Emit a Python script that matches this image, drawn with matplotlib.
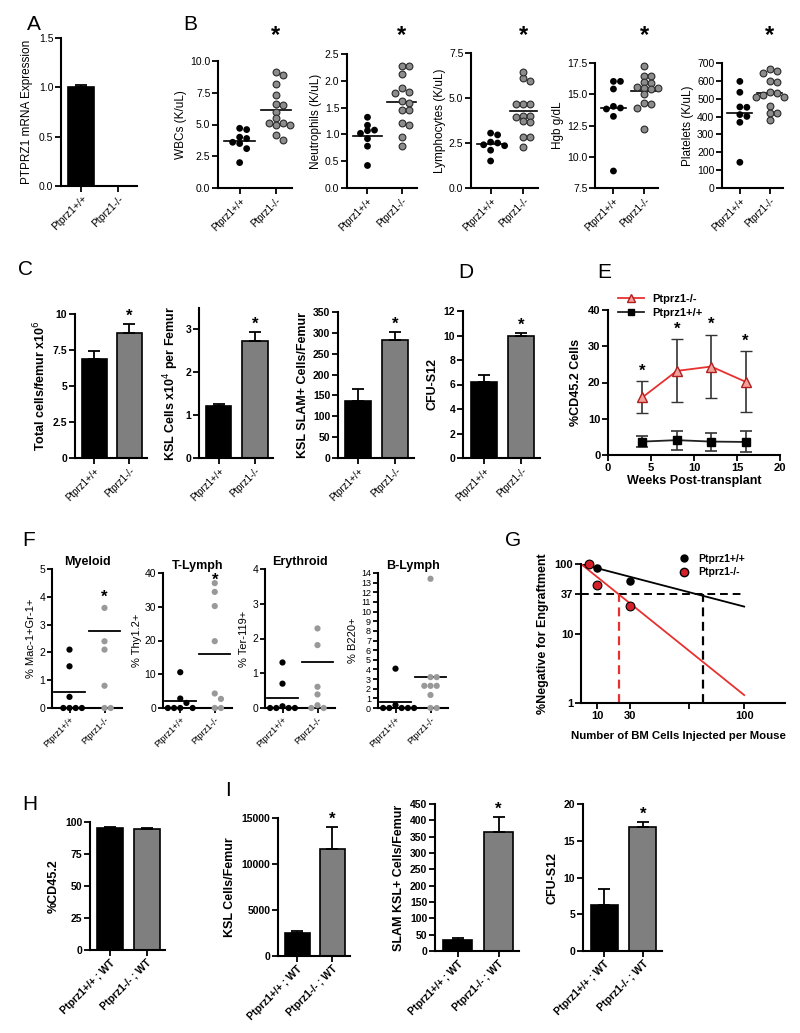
import numpy as np
import matplotlib
matplotlib.use("Agg")
import matplotlib.pyplot as plt
from matplotlib import transforms
from matplotlib.lines import Line2D

plt.rcParams['font.family'] = ['Liberation Sans', 'DejaVu Sans']

W, H = 800, 1033
GROUPS = ["Ptprz1+/+", "Ptprz1-/-"]
GROUPS_WT = ["Ptprz1+/+ ; WT", "Ptprz1-/- ; WT"]

# ---- A: PTPRZ1 mRNA
a_mean = [1.0, 0.0]
a_err = [0.02, 0.0]

# ---- B: blood counts (WT, KO)
wbc_wt = [4.7, 4.6, 3.6, 3.5, 3.9, 4.0, 3.1, 2.0]
wbc_ko = [9.1, 8.9, 8.2, 7.3, 6.6, 6.5, 6.0, 5.5, 5.1, 5.0, 5.1, 5.0, 4.2, 3.8]
neu_wt = [1.32, 1.17, 1.07, 1.08, 1.02, 0.92, 0.78, 0.42]
neu_ko = [2.28, 2.13, 2.27, 1.86, 1.80, 1.77, 1.62, 1.58, 1.46, 1.45, 1.21, 1.18, 0.96, 0.78]
lym_wt = [2.95, 3.05, 2.55, 2.40, 2.50, 2.35, 2.10, 1.50]
lym_ko = [6.10, 6.44, 5.96, 4.69, 4.67, 4.69, 4.00, 3.97, 4.02, 3.69, 3.72, 2.81, 2.81, 2.29]
hgb_wt = [16.03, 16.03, 15.42, 13.82, 13.90, 14.03, 13.23, 8.86]
hgb_ko = [17.3, 16.5, 16.5, 15.9, 15.95, 15.5, 15.5, 15.0, 14.3, 14.2, 13.9, 12.2, 15.4, 15.6]
plt_wt = [597, 536, 454, 452, 411, 401, 368, 144]
plt_ko = [668, 644, 653, 597, 592, 530, 538, 523, 510, 512, 461, 420, 420, 383]

# ---- C / D: femur counts (mean, sem)
tot_mean, tot_err = [6.9, 8.7], [0.5, 0.6]
ksl_mean, ksl_err = [1.22, 2.72], [0.05, 0.22]
slam_mean, slam_err = [137, 283], [28, 20]
cfu_mean, cfu_err = [6.2, 10.0], [0.6, 0.2]

# ---- E: chimerism over time
e_weeks = [4, 8, 12, 16]
e_ko = [15.9, 23.2, 24.4, 20.2]
e_ko_err = [4.4, 8.7, 8.7, 8.4]
e_wt = [3.7, 4.1, 3.7, 3.6]
e_wt_err = [1.6, 2.6, 2.5, 2.9]

# ---- F: lineage (points + line value)
mye_wt = [2.1, 1.5, 0.4, 0, 0, 0, 0]
mye_ko = [3.6, 2.4, 2.1, 0.8, 0, 0]
mye_line = [0.59, 2.78]
tly_wt = [10.6, 2.8, 1.5, 0, 0, 0, 0]
tly_ko = [37.0, 34.4, 30.2, 19.8, 4.3, 2.7, 0, 0]
tly_line = [2.2, 16.1]
ery_wt = [1.31, 0.70, 0.05, 0, 0, 0, 0]
ery_ko = [2.29, 1.81, 0.61, 0.39, 0.08, 0, 0]
ery_line = [0.30, 1.32]
bly_wt = [4.08, 0.3, 0, 0, 0, 0, 0]
bly_ko = [13.4, 3.2, 3.2, 2.3, 2.3, 2.3, 1.35, 0, 0]
bly_line = [0.62, 3.25]

# ---- G: limiting dilution
g_wt_x = [10, 30]
g_wt_y = [88, 57]
g_ko_x = [5, 10, 30]
g_ko_y = [100, 50, 25]
g_fit_x = [0, 100]
g_wt_fit = [100, 24.4]
g_ko_fit = [100, 1.3]
g_wt_x37 = 74.5
g_ko_x37 = 23

# ---- H / I: secondary transplant
cd45_mean, cd45_err = [95.5, 94.5], [0.5, 0.8]
i_ksl_mean, i_ksl_err = [2550, 11600], [200, 2400]
i_slam_mean, i_slam_err = [35, 365], [5, 45]
i_cfu_mean, i_cfu_err = [6.2, 16.9], [2.2, 0.7]

fig = plt.figure(figsize=(W / 100, H / 100), dpi=100)


def add_ax(l, t, r, b):
    ax = fig.add_axes([l / W, 1 - b / H, (r - l) / W, (b - t) / H])
    ax.spines[['top', 'right']].set_visible(False)
    for s in ('left', 'bottom'):
        ax.spines[s].set_linewidth(1.5)
    ax.tick_params(width=1.3, length=4, labelsize=7.5, pad=1.5)
    return ax


def letter(x, y, s):
    fig.text(x / W, 1 - y / H, s, fontsize=15, ha='left', va='center')


def xlabels(ax, labels, size=7.5, bold=False):
    ax.set_xticks(range(len(labels)))
    ax.set_xticklabels(labels, rotation=45, ha='right', rotation_mode='anchor',
                       fontsize=size, fontweight='bold' if bold else 'normal')


def bars(ax, means, errs, star=None, width=0.7):
    x = np.arange(2)
    ax.bar(x, means, width, color=['black', '#7f7f7f'], edgecolor='black', linewidth=1.2)
    ax.errorbar(x, means, yerr=[np.zeros(2), errs], fmt='none', ecolor='black',
                elinewidth=1.3, capsize=4, capthick=1.3)
    ax.set_xlim(-0.55, 1.5)
    if star:
        ax.text(1, means[1] + errs[1], '*', ha='center', va='bottom', fontsize=star,
                fontweight='bold')


def swarm(values, px_per_y, px_per_x, diam, tol=0.7):
    # simple column packing: a point moves sideways only when it would hide another
    ys = np.asarray(values, float) * px_per_y
    placed, offs = [], np.zeros(len(ys))
    for i in np.argsort(-ys):
        k = 0
        while True:
            step = (k + 1) // 2 * (1 if k % 2 else -1)
            cand = step * diam * 1.0
            if all((cand - px) ** 2 + (ys[i] - py) ** 2 >= (diam * tol) ** 2 for px, py in placed):
                break
            k += 1
        placed.append((cand, ys[i]))
        offs[i] = cand
    return offs / px_per_x


def dots(ax, box, ylim, xlim, groups, styles, diam, line=None, lw=1.2, half=0.4, tol=0.7):
    l, t, r, b = box
    px_y = (b - t) / (ylim[1] - ylim[0])
    px_x = (r - l) / (xlim[1] - xlim[0])
    for gi, (vals, st) in enumerate(zip(groups, styles)):
        off = swarm(np.asarray(vals) - ylim[0], px_y, px_x, diam, tol)
        ax.scatter(gi + off, vals, clip_on=False, zorder=3, **st)
        val = np.mean(vals) if line is None else line[gi]
        ax.plot([gi - half, gi + half], [val, val], color='black', lw=lw, zorder=2)
    ax.set_xlim(*xlim)
    ax.set_ylim(*ylim)


# ================= A
ax = add_ax(61, 38, 137, 186)
letter(27, 24, 'A')
bars(ax, a_mean, a_err)
ax.set_ylim(0, 1.5)
ax.set_yticks([0, 0.5, 1.0, 1.5])
ax.set_yticklabels(['0.0', '0.5', '1.0', '1.5'])
ax.set_ylabel('PTPRZ1 mRNA Expression', fontsize=8.5)
xlabels(ax, GROUPS)

# ================= B
letter(183, 24, 'B')
wt_st = dict(s=24, color='black', edgecolor='none')
ko_st = dict(s=24, color='#8c8c8c', edgecolor='#2a2a2a', linewidth=0.8)
b_panels = [
    ((218, 61, 292, 188), (0, 10), [0, 2.5, 5, 7.5, 10], '{:.1f}', 'WBCs (K/uL)', wbc_wt, wbc_ko),
    ((347, 54, 417, 188), (0, 2.5), [0, 0.5, 1.0, 1.5, 2.0, 2.5], '{:.1f}', 'Neutrophils (K/uL)', neu_wt, neu_ko),
    ((471, 53, 538, 188), (0, 7.5), [0, 2.5, 5, 7.5], '{:.1f}', 'Lymphocytes (K/uL)', lym_wt, lym_ko),
    ((595, 63, 658, 188), (7.5, 17.5), [7.5, 10, 12.5, 15, 17.5], '{:.1f}', 'Hgb g/dL', hgb_wt, hgb_ko),
    ((722, 63, 783, 188), (0, 700), list(range(0, 701, 100)), '{:.0f}', 'Platelets (K/uL)', plt_wt, plt_ko),
]
for box, ylim, ticks, fmt, lab, wt, ko in b_panels:
    ax = add_ax(*box)
    dots(ax, box, ylim, (-0.6, 1.45), [wt, ko], [wt_st, ko_st], 7.0, half=0.42, tol=0.75)
    ax.set_yticks(ticks)
    ax.set_yticklabels([fmt.format(v) for v in ticks])
    ax.set_ylabel(lab, fontsize=8.5, labelpad=2)
    xlabels(ax, GROUPS, size=7)
    tr = transforms.blended_transform_factory(ax.transData, fig.transFigure)
    ax.text(1, 1 - 36 / H, '*', transform=tr, ha='center', va='center', fontsize=17,
            fontweight='bold')

# ================= C
letter(18, 270, 'C')
c_panels = [
    ((75, 314, 147, 458), tot_mean, tot_err, (0, 10), [0, 2.5, 5, 7.5, 10], ['0', '2.5', '5', '7.5', '10'],
     'Total cells/femur x10$^6$'),
    ((199, 308, 273, 458), ksl_mean, ksl_err, (0, 3.5), [0, 1, 2, 3], ['0', '1', '2', '3'],
     'KSL Cells x10$^4$ per Femur'),
    ((338, 312, 414, 458), slam_mean, slam_err, (0, 350), list(range(0, 351, 50)),
     [str(v) for v in range(0, 351, 50)], 'KSL SLAM+ Cells/Femur'),
]
for box, m, e, ylim, ticks, tl, lab in c_panels:
    ax = add_ax(*box)
    bars(ax, m, e, star=12)
    ax.set_ylim(*ylim)
    ax.set_yticks(ticks)
    ax.set_yticklabels(tl, fontweight='bold')
    ax.set_ylabel(lab, fontsize=9, fontweight='bold', labelpad=3)
    xlabels(ax, GROUPS, size=7)

# ================= D
letter(458, 272, 'D')
ax = add_ax(463, 311, 540, 458)
bars(ax, cfu_mean, cfu_err, star=12)
ax.set_ylim(0, 12)
ax.set_yticks(range(0, 13, 2))
ax.set_yticklabels([str(v) for v in range(0, 13, 2)], fontweight='bold')
ax.set_ylabel('CFU-S12', fontsize=9, fontweight='bold')
xlabels(ax, GROUPS, size=7)

# ================= E
letter(597, 272, 'E')
ax = add_ax(608, 310, 780, 455)
ax.errorbar(e_weeks, e_ko, yerr=e_ko_err, color='#e8312f', lw=1.3, marker='^', ms=6.5,
            mfc='#f2a19b', mec='#b01e1e', mew=1.0, ecolor='#333333', elinewidth=1.2,
            capsize=4, capthick=1.2, zorder=3)
ax.errorbar(e_weeks, e_wt, yerr=e_wt_err, color='#222222', lw=1.3, marker='s', ms=5.5,
            mfc='black', mec='black', ecolor='#333333', elinewidth=1.2, capsize=4,
            capthick=1.2, zorder=3)
for x, m, e in zip(e_weeks, e_ko, e_ko_err):
    ax.text(x, m + e + 0.8, '*', ha='center', va='bottom', fontsize=12, fontweight='bold')
ax.set_xlim(0, 20)
ax.set_ylim(0, 40)
ax.set_xticks(range(0, 21, 5))
ax.set_yticks(range(0, 41, 10))
ax.tick_params(labelsize=8)
for t in ax.get_xticklabels() + ax.get_yticklabels():
    t.set_fontweight('bold')
ax.set_xlabel('Weeks Post-transplant', fontsize=9, fontweight='bold', labelpad=2)
ax.set_ylabel('%CD45.2 Cells', fontsize=9, fontweight='bold')
hdl = [Line2D([], [], color='#e8312f', lw=1.3, marker='^', ms=6, mfc='#f2a19b', mec='#b01e1e'),
       Line2D([], [], color='#222222', lw=1.3, marker='s', ms=5, mfc='black', mec='black')]
ax.legend(hdl, GROUPS[::-1], loc='lower left', bbox_to_anchor=(0.02, 0.9), frameon=False,
          prop=dict(weight='bold', size=8), handlelength=2.3, labelspacing=0.35,
          borderpad=0.1)

# ================= F
letter(22, 540, 'F')
wtf = dict(s=20, color='black', edgecolor='none')
kof = dict(s=20, color='#999999', edgecolor='none')
f_panels = [
    ((52, 569, 122, 708), 'Myeloid', (0, 5), list(range(0, 6)), '% Mac-1+Gr-1+', mye_wt, mye_ko, mye_line, 4.0),
    ((163, 573, 232, 708), 'T-Lymph', (0, 40), list(range(0, 41, 10)), '% Thy1.2+', tly_wt, tly_ko, tly_line, 37.8),
    ((265, 569, 335, 708), 'Erythroid', (0, 4), list(range(0, 5)), '% Ter-119+', ery_wt, ery_ko, ery_line, None),
    ((378, 573, 448, 708), 'B-Lymph', (0, 14), list(range(0, 15)), '% B220+', bly_wt, bly_ko, bly_line, None),
]
for box, title, ylim, ticks, lab, wt, ko, line, star in f_panels:
    ax = add_ax(*box)
    dots(ax, box, ylim, (-0.5, 1.5), [wt, ko], [wtf, kof], 6.2, line=line, lw=1.3, half=0.45,
         tol=0.9)
    ax.set_yticks(ticks)
    ax.tick_params(labelsize=6.5 if len(ticks) > 10 else 7.5, length=3.5)
    ax.set_title(title, fontsize=9, fontweight='bold', pad=3)
    ax.set_ylabel(lab, fontsize=8, labelpad=2)
    xlabels(ax, GROUPS, size=6.5)
    if star is not None:
        ax.text(1, star, '*', ha='center', va='center', fontsize=12, fontweight='bold')

# ================= G
letter(505, 540, 'G')
ax = add_ax(581, 564, 785, 703)
ax.set_yscale('log')
ax.plot(g_fit_x, g_wt_fit, color='black', lw=1.3)
ax.plot(g_fit_x, g_ko_fit, color='#e8312f', lw=1.3)
ax.plot([0, 100], [37, 37], color='black', lw=1.4, ls=(0, (4, 2.5)))
ax.plot([g_wt_x37, g_wt_x37], [1, 37], color='black', lw=1.6, ls=(0, (4, 2.5)))
ax.plot([g_ko_x37, g_ko_x37], [1, 37], color='#e8312f', lw=1.6, ls=(0, (4, 2.5)))
ax.scatter(g_wt_x, g_wt_y, s=26, color='black', zorder=4, clip_on=False)
ax.scatter(g_ko_x, g_ko_y, s=40, color='#d4202a', edgecolor='black', linewidth=0.8, zorder=4,
           clip_on=False)
ax.set_xlim(0, 125)
ax.set_ylim(1, 100)
ax.set_xticks([10, 30, 66, 100])
ax.set_xticklabels(['10', '30', '', '100'])
ax.set_yticks([1, 10, 37, 100])
ax.set_yticklabels(['1', '10', '37', '100'])
ax.minorticks_off()
ax.tick_params(labelsize=8)
for t in ax.get_xticklabels() + ax.get_yticklabels():
    t.set_fontweight('bold')
ax.set_xlabel('Number of BM Cells Injected per Mouse', fontsize=8.2, fontweight='bold')
ax.xaxis.set_label_coords(0.48, -0.2)
ax.set_ylabel('%Negative for Engraftment', fontsize=9, fontweight='bold')
hdl = [Line2D([], [], ls='none', marker='o', ms=5, color='black'),
       Line2D([], [], ls='none', marker='o', ms=6, mfc='#d4202a', mec='black')]
ax.legend(hdl, GROUPS, loc='lower left', bbox_to_anchor=(0.45, 0.86), frameon=False,
          prop=dict(weight='bold', size=7.5), handlelength=1, handletextpad=0.8,
          labelspacing=0.35, borderpad=0.1)

# ================= H
letter(22, 805, 'H')
ax = add_ax(90, 822, 165, 950)
bars(ax, cd45_mean, cd45_err)
ax.set_ylim(0, 100)
ax.set_yticks(range(0, 101, 25))
ax.set_ylabel('%CD45.2', fontsize=9, fontweight='bold')
for t in ax.get_yticklabels():
    t.set_fontweight('bold')
xlabels(ax, GROUPS_WT, size=7.5, bold=True)

# ================= I
letter(225, 790, 'I')
i_panels = [
    ((278, 818, 350, 956), i_ksl_mean, i_ksl_err, (0, 15000), list(range(0, 15001, 5000)), 'KSL Cells/Femur'),
    ((435, 804, 519, 951), i_slam_mean, i_slam_err, (0, 450), list(range(0, 451, 50)), 'SLAM KSL+ Cells/Femur'),
    ((583, 804, 662, 951), i_cfu_mean, i_cfu_err, (0, 20), list(range(0, 21, 5)), 'CFU-S12'),
]
for box, m, e, ylim, ticks, lab in i_panels:
    ax = add_ax(*box)
    bars(ax, m, e, star=12)
    ax.set_ylim(*ylim)
    ax.set_yticks(ticks)
    for t in ax.get_yticklabels():
        t.set_fontweight('bold')
    ax.set_ylabel(lab, fontsize=9, fontweight='bold')
    xlabels(ax, GROUPS_WT, size=7.5, bold=True)

fig.savefig('out.png', dpi=100)
